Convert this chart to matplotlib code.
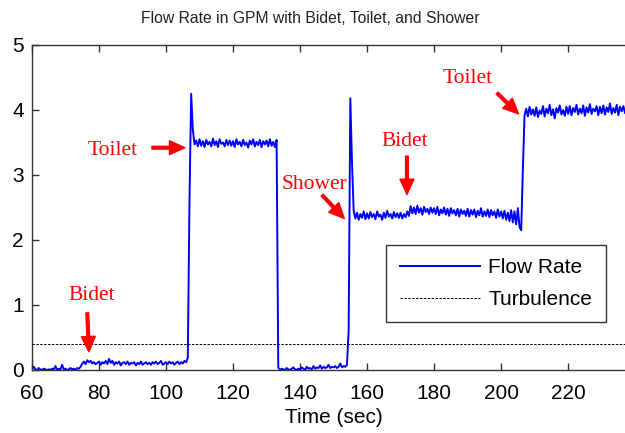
import numpy as np
import matplotlib
matplotlib.use('Agg')
import matplotlib.pyplot as plt

t_start = 60.0
t_step = 0.5
flow_rate = [
    0.02, 0.05, 0.01, 0.00, 0.03, 0.01, 0.00, 0.02, 0.01, 0.00, 0.01, 0.00, 0.02, 0.01, 0.06, 0.00, 0.02, 0.01, 0.08, 0.01,
    0.02, 0.00, 0.01, 0.03, 0.01, 0.02, 0.00, 0.03, 0.02, 0.05, 0.10, 0.13, 0.09, 0.15, 0.12, 0.14, 0.10, 0.12, 0.09, 0.11,
    0.13, 0.08, 0.12, 0.10, 0.14, 0.09, 0.17, 0.11, 0.14, 0.08, 0.12, 0.10, 0.13, 0.07, 0.11, 0.12, 0.09, 0.13, 0.08, 0.11,
    0.10, 0.12, 0.07, 0.11, 0.09, 0.13, 0.08, 0.10, 0.12, 0.09, 0.11, 0.08, 0.12, 0.10, 0.13, 0.09, 0.11, 0.14, 0.08, 0.10,
    0.12, 0.09, 0.13, 0.10, 0.12, 0.08, 0.11, 0.13, 0.09, 0.12, 0.10, 0.14, 0.12, 0.19, 2.60, 4.25, 3.70, 3.47, 3.53, 3.44,
    3.55, 3.45, 3.52, 3.43, 3.54, 3.47, 3.51, 3.44, 3.56, 3.46, 3.52, 3.43, 3.55, 3.48, 3.50, 3.44, 3.54, 3.46, 3.53, 3.45,
    3.52, 3.43, 3.55, 3.47, 3.51, 3.44, 3.54, 3.46, 3.50, 3.42, 3.53, 3.47, 3.55, 3.44, 3.51, 3.46, 3.54, 3.43, 3.52, 3.47,
    3.53, 3.44, 3.55, 3.45, 3.51, 3.43, 3.54, 0.04, 0.00, 0.02, 0.01, 0.00, 0.03, 0.01, 0.00, 0.02, 0.04, 0.01, 0.00, 0.02,
    0.01, 0.04, 0.02, 0.00, 0.05, 0.02, 0.03, 0.01, 0.06, 0.02, 0.04, 0.03, 0.07, 0.02, 0.05, 0.03, 0.04, 0.08, 0.03, 0.05,
    0.04, 0.06, 0.03, 0.05, 0.10, 0.04, 0.06, 0.05, 0.08, 0.60, 4.18, 3.20, 2.45, 2.33, 2.42, 2.31, 2.40, 2.34, 2.44, 2.32,
    2.41, 2.33, 2.43, 2.35, 2.40, 2.32, 2.44, 2.36, 2.39, 2.31, 2.42, 2.34, 2.45, 2.36, 2.40, 2.33, 2.43, 2.35, 2.41, 2.34,
    2.42, 2.33, 2.40, 2.35, 2.44, 2.37, 2.52, 2.41, 2.50, 2.40, 2.53, 2.42, 2.49, 2.39, 2.51, 2.43, 2.48, 2.40, 2.50, 2.42,
    2.49, 2.40, 2.51, 2.38, 2.47, 2.41, 2.50, 2.39, 2.48, 2.37, 2.49, 2.41, 2.46, 2.38, 2.48, 2.36, 2.47, 2.40, 2.45, 2.37,
    2.48, 2.36, 2.46, 2.39, 2.47, 2.35, 2.45, 2.38, 2.49, 2.36, 2.44, 2.37, 2.47, 2.35, 2.46, 2.38, 2.44, 2.34, 2.47, 2.36,
    2.44, 2.33, 2.45, 2.31, 2.42, 2.29, 2.46, 2.27, 2.44, 2.24, 2.49, 2.20, 2.15, 3.10, 3.92, 4.02, 3.90, 4.05, 3.93, 4.01,
    3.91, 4.04, 3.89, 3.99, 3.94, 4.06, 3.90, 4.02, 3.95, 4.08, 3.92, 4.01, 3.87, 4.03, 3.96, 4.07, 3.93, 4.00, 3.91, 4.05,
    3.94, 4.06, 3.92, 4.03, 3.97, 4.08, 3.93, 4.02, 3.95, 4.07, 3.91, 4.04, 3.96, 4.09, 3.94, 4.02, 3.98, 4.06, 3.92, 4.05,
    3.95, 4.07, 3.93, 4.04, 3.97, 4.10, 3.94, 4.03, 3.96, 4.08, 3.92, 4.05, 3.98, 4.06, 3.95, 4.04,
]
turbulence = 0.4

# annotations: label, text position, arrow tail, arrow tip
notes = [
    ('Bidet', (77.9, 1.14), (76.5, 0.88), (77.0, 0.28)),
    ('Toilet', (84.2, 3.37), (95.8, 3.42), (105.6, 3.42)),
    ('Shower', (144.2, 2.86), (146.6, 2.69), (153.2, 2.33)),
    ('Bidet', (171.3, 3.51), (171.9, 3.29), (171.9, 2.70)),
    ('Toilet', (190.1, 4.48), (198.8, 4.26), (205.2, 3.94)),
]

plt.rcParams['font.family'] = ['Liberation Sans', 'DejaVu Sans']

fig = plt.figure(figsize=(6.25, 4.33), dpi=100)
ax = fig.add_axes([0.0512, 0.1455, 0.965, 0.7506])

time = t_start + t_step * np.arange(len(flow_rate))
ax.plot(time, flow_rate, color='#0000ff', lw=1.4, label='Flow Rate')
ax.axhline(turbulence, color='black', lw=0.7, ls=(0, (2.5, 1.5)), label='Turbulence')

for label, txt, tail, tip in notes:
    ax.text(txt[0], txt[1], label, color='red', fontsize=15.5,
            family='Liberation Serif', ha='center', va='center')
    ax.annotate('', xy=tip, xytext=tail,
                arrowprops=dict(facecolor='red', edgecolor='red',
                                width=2, headwidth=10, headlength=11))

ax.set_xlim(60, 240)
ax.set_ylim(0, 5)
ax.set_xticks(range(60, 240, 20))
ax.set_yticks(range(0, 6))
ax.tick_params(direction='in', length=5, width=1, labelsize=15,
               top=True, right=True, colors='#333333', labelcolor='black')
ax.tick_params(axis='x', pad=10)
ax.tick_params(axis='y', pad=6)
for s in ax.spines.values():
    s.set_color('#333333')
    s.set_linewidth(1)

ax.set_xlabel('Time (sec)', fontsize=15, labelpad=4)
fig.text(0.497, 0.958, 'Flow Rate in GPM with Bidet, Toilet, and Shower',
         ha='center', va='center', fontsize=11.3, color='#222222')

leg = ax.legend(loc='upper left', bbox_to_anchor=(0.587, 0.385),
                borderaxespad=0, fancybox=False, framealpha=1,
                edgecolor='#333333', fontsize=15, handlelength=3.85,
                handletextpad=0.4, borderpad=0.65, labelspacing=0.6)
leg.get_frame().set_linewidth(1)

fig.savefig('out.png', dpi=100)
